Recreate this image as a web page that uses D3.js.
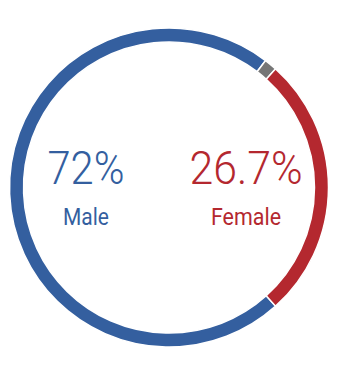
<!DOCTYPE html>
<html><head><meta charset="utf-8">
<script src="https://cdn.jsdelivr.net/npm/d3@7"></script>
<style>html,body{margin:0;padding:0;background:#fff;}</style>
</head><body>
<svg id="chart" width="338" height="375"></svg>
<script>
const categories = ["Male", "Other", "Female"];
const values = [72, 1.3, 26.7];
const colors = ["#345f9f", "#767676", "#b4282f"];
const labels = ["72%", "", "26.7%"];

const svg = d3.select("#chart");
const cx = 169, cy = 187.5, outerR = 159.5, innerR = 145.5;
const femaleShare = values[2] / d3.sum(values) * 2 * Math.PI;
const start = Math.PI / 2 + femaleShare / 2;

const pie = d3.pie().sort(null).value(d => d)
  .startAngle(start).endAngle(start + 2 * Math.PI);
const arc = d3.arc().innerRadius(innerR).outerRadius(outerR);
const color = d3.scaleOrdinal().domain(categories).range(colors);

const g = svg.append("g").attr("transform", `translate(${cx},${cy})`);
g.selectAll("path").data(pie(values)).join("path")
  .attr("d", arc)
  .attr("fill", (d, i) => color(categories[i]))
  .attr("stroke", "#fff").attr("stroke-width", 1.5);

const textItems = [
  {cat: "Male", pct: labels[0], x: 86, pw: 77, lw: 46},
  {cat: "Female", pct: labels[2], x: 246, pw: 113, lw: 70}
];
const tg = svg.append("g");
textItems.forEach(t => {
  tg.append("text").attr("x", t.x).attr("y", 183.5)
    .attr("text-anchor", "middle")
    .attr("font-family", "Roboto, sans-serif").attr("font-weight", 300)
    .attr("font-size", 46).attr("fill", color(t.cat))
    .attr("textLength", t.pw).attr("lengthAdjust", "spacingAndGlyphs")
    .text(t.pct);
  tg.append("text").attr("x", t.x).attr("y", 225)
    .attr("text-anchor", "middle")
    .attr("font-family", "Roboto, sans-serif").attr("font-weight", 400)
    .attr("font-size", 23.5).attr("fill", color(t.cat))
    .attr("textLength", t.lw).attr("lengthAdjust", "spacingAndGlyphs")
    .text(t.cat);
});
</script>
</body></html>
